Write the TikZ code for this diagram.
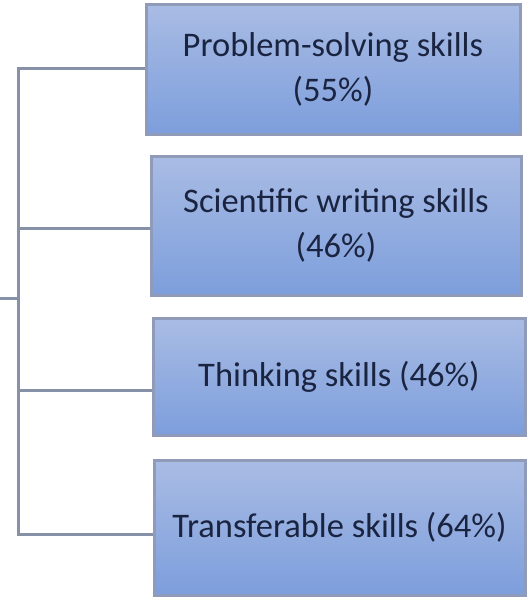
\documentclass[tikz,border=0pt]{standalone}
\usepackage{fontspec}
\setmainfont{Carlito}
\definecolor{boxtop}{HTML}{A9BCE4}
\definecolor{boxbot}{HTML}{7D9EDC}
\definecolor{boxline}{HTML}{8F9BB8}
\definecolor{txt}{HTML}{1A2440}
\definecolor{conn}{HTML}{8690A6}
\begin{document}
\begin{tikzpicture}[x=1pt,y=1pt,
  skillbox/.style={draw=boxline, line width=3pt, top color=boxtop, bottom color=boxbot,
    shading angle=0, text=txt, align=center, font=\fontsize{34.5}{45}\selectfont, inner sep=0pt},
  connline/.style={draw=conn, line width=3pt}]
\useasboundingbox (0,0) rectangle (529,-598);
\node[skillbox, minimum width=374pt, minimum height=130pt] (b1) at (333,-69) {Problem-solving skills\\(55\%)};
\node[skillbox, minimum width=370pt, minimum height=139pt] (b2) at (336,-225.5) {Scientific writing skills\\(46\%)};
\node[skillbox, minimum width=372pt, minimum height=117pt] (b3) at (339,-376.5) {Thinking skills (46\%)};
\node[skillbox, minimum width=371pt, minimum height=135pt] (b4) at (339.5,-527.5) {Transferable skills (64\%)};
\coordinate (j1) at (18,-68);
\coordinate (j2) at (18,-228);
\coordinate (j3) at (18,-390);
\coordinate (j4) at (18,-534);
\coordinate (s0) at (0,-298);
\coordinate (s1) at (18,-298);
\draw[connline, line join=miter] (b1.west |- j1) -- (j1) -- (j4) -- (b4.west |- j4);
\draw[connline] (j2) -- (b2.west |- j2);
\draw[connline] (j3) -- (b3.west |- j3);
\draw[connline] (s0) -- (s1);
\end{tikzpicture}
\end{document}
